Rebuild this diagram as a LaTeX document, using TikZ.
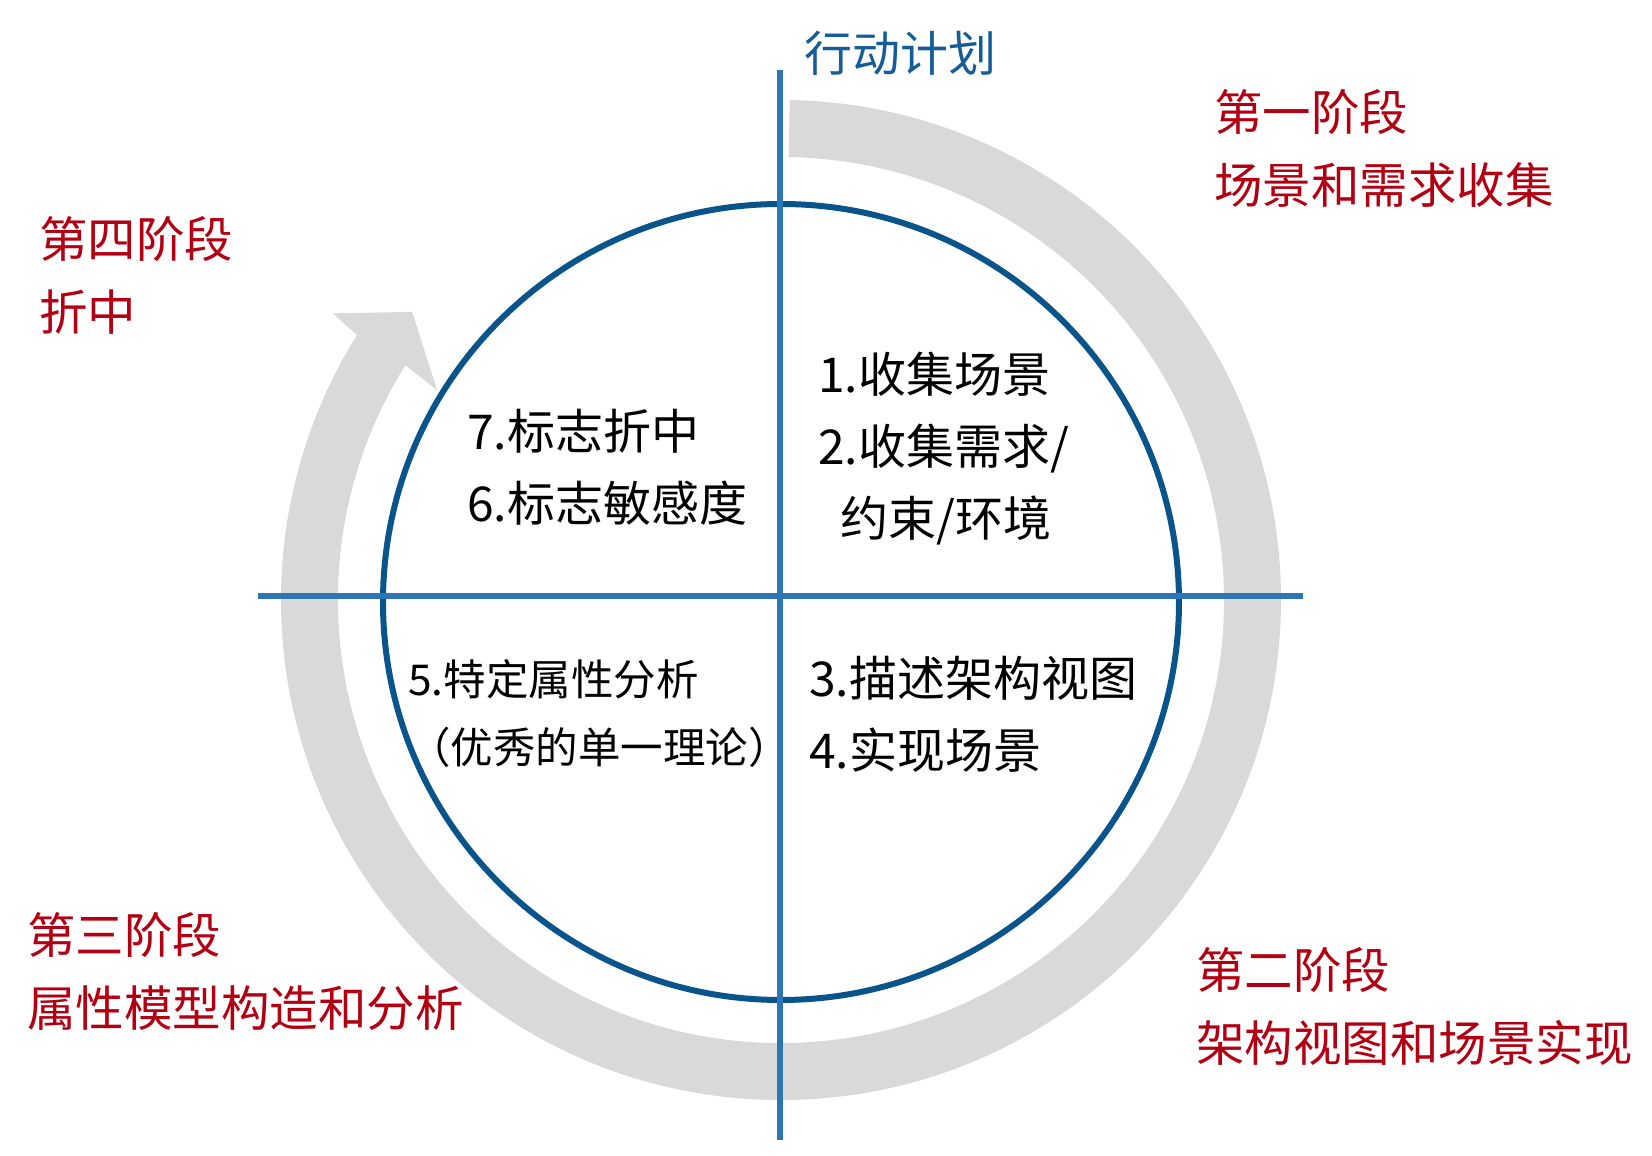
\documentclass[tikz,border=0pt]{standalone}
\usepackage{fontspec}
\setmainfont{Noto Sans CJK SC}
\usepackage{tikz}
\usetikzlibrary{positioning}
\definecolor{stagered}{RGB}{178,0,18}
\definecolor{planblue}{RGB}{22,92,150}
\definecolor{axisblue}{RGB}{46,117,182}
\definecolor{ringblue}{RGB}{10,84,140}
\definecolor{cyclegray}{RGB}{217,217,217}

\begin{document}
\begin{tikzpicture}[x=1pt,y=1pt,
  stage/.style={anchor=west,inner sep=0pt,align=left,text=stagered,
    font=\fontsize{48.5}{73}\selectfont},
  steptext/.style={anchor=west,inner sep=0pt,align=left,
    font=\fontsize{48}{72}\selectfont},
  axis/.style={draw=axisblue,line width=6pt}
]
\useasboundingbox (-781,-556) rectangle (871,600);

% gray cycle arrow
\fill[cyclegray] (89:500) arc[start angle=89,end angle=-212,radius=500]
  -- (-212.6:532) -- (-218:468) -- (-211.4:403) -- (-212:443)
  arc[start angle=-212,end angle=89,radius=443] -- cycle;

% quadrant circle and axes
\draw[ringblue,line width=6pt] (0,-2) circle[radius=398];
\coordinate (top) at (-1,530);
\coordinate (bottom) at (-1,-540);
\coordinate (left) at (-523,4);
\coordinate (right) at (522,4);
\draw[axis] (top) -- (bottom);
\draw[axis] (left) -- (right);

\node[anchor=west,inner sep=0pt,text=planblue,font=\fontsize{48}{56}\selectfont]
  (plan) at (23,547) {行动计划};

% stages
\node[stage] (s1) at (433,451.5) {第一阶段\\场景和需求收集};
\node[stage] (s2) at (415,-406.5) {第二阶段\\架构视图和场景实现};
\node[stage] (s3) at (-754,-371.5) {第三阶段\\属性模型构造和分析};
\node[stage] (s4) at (-742,324.5) {第四阶段\\折中};

% steps in the quadrants
\node[steptext] (q1) at (37,151.5)
  {1.收集场景\\2.收集需求/\\\hspace*{22pt}约束/环境};
\node[steptext] (q2) at (28,-114.5) {3.描述架构视图\\4.实现场景};
\node[steptext,font=\fontsize{42.5}{68}\selectfont] (q3) at (-373,-114)
  {5.特定属性分析\\（优秀的单一理论）};
\node[steptext] (q4) at (-314,133) {7.标志折中\\6.标志敏感度};
\end{tikzpicture}
\end{document}
